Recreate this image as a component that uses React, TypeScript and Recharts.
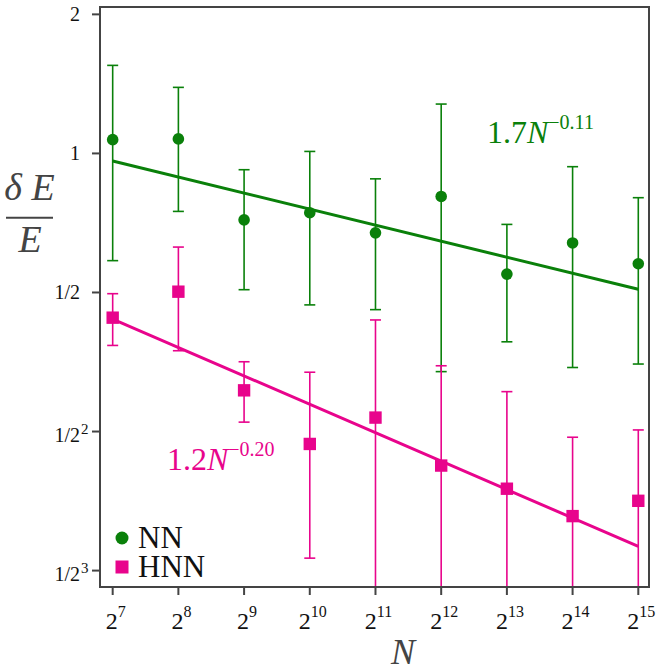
import {
    ComposedChart,
    Scatter,
    Line,
    XAxis,
    YAxis,
    ErrorBar,
    ReferenceArea,
    Legend,
} from "recharts";

// N = 2^k
const exponents = [7, 8, 9, 10, 11, 12, 13, 14, 15];
const nValues = [128, 256, 512, 1024, 2048, 4096, 8192, 16384, 32768];

// dE/E, NN
const nnMean = [1.071, 1.075, 0.718, 0.744, 0.673, 0.807, 0.548, 0.64, 0.577];
const nnUpper = [1.551, 1.39, 0.922, 1.01, 0.881, 1.279, 0.702, 0.936, 0.802];
const nnLower = [0.586, 0.749, 0.507, 0.47, 0.459, 0.337, 0.391, 0.344, 0.35];

// dE/E, HNN (lower 0 = bar runs off the bottom)
const hnnMean = [0.441, 0.502, 0.307, 0.235, 0.268, 0.211, 0.188, 0.164, 0.177];
const hnnUpper = [0.497, 0.627, 0.354, 0.336, 0.436, 0.347, 0.305, 0.243, 0.252];
const hnnLower = [0.384, 0.374, 0.262, 0.133, 0, 0, 0, 0, 0];

// fitted power laws, end points
const fitN = [128, 32768];
const nnFit = [0.963, 0.508];
const hnnFit = [0.438, 0.141];

const yTicks = [1, 0, -1, -2, -3];
const yTickText: Record<number, [string, string]> = {
    1: ["2", ""],
    0: ["1", ""],
    "-1": ["1/2", ""],
    "-2": ["1/2", "2"],
    "-3": ["1/2", "3"],
};

const X_MIN = 6.807;
const X_MAX = 15.163;
const Y_MIN = -3.118;
const Y_MAX = 1.053;

const GREEN = "#0a800a";
const PINK = "#e8048c";
const AXIS = "#444";
const FONT = "Liberation Serif, Times New Roman, serif";

// errA: capped bar (lower end kept at the point when the bar runs off the axis)
// errB: open lower part down to the axis, no cap
const toRows = (mean: number[], lo: number[], hi: number[]) =>
    nValues.map((n, i) => {
        const y = Math.log2(mean[i]);
        const up = Math.log2(hi[i]) - y;
        const open = !(lo[i] > 0);
        return {
            x: Math.log2(n),
            y,
            errA: open ? [0, up] : [y - Math.log2(lo[i]), up],
            errB: open ? [y - Y_MIN, 0] : null,
        };
    });

const fitRows = (vals: number[]) =>
    fitN.map((n, i) => ({ x: Math.log2(n), y: Math.log2(vals[i]) }));

const nnData = toRows(nnMean, nnLower, nnUpper);
const hnnData = toRows(hnnMean, hnnLower, hnnUpper);

const legendItems = [
    { name: "NN", color: GREEN, shape: "circle" },
    { name: "HNN", color: PINK, shape: "square" },
];

function XTick({ x, y, payload }: any) {
    return (
        <text x={x + 3} y={y + 32} textAnchor="middle" fontFamily={FONT} fontSize={24} fill="#111">
            2
            <tspan dy={-12} fontSize={16}>
                {payload.value}
            </tspan>
        </text>
    );
}

function YTick({ x, y, payload }: any) {
    const [base, sup] = yTickText[payload.value];
    return (
        <g fontFamily={FONT} fill="#111">
            <text x={x} y={sup ? y + 10 : y + 7} textAnchor="end" fontSize={20}>
                {base}
            </text>
            {sup && (
                <text x={x + 1} y={y + 2} fontSize={15}>
                    {sup}
                </text>
            )}
        </g>
    );
}

const dot = (color: string) => (p: any) => (
    <circle cx={p.cx} cy={p.cy} r={5.8} fill={color} />
);
const square = (color: string) => (p: any) => (
    <rect x={p.cx - 6.2} y={p.cy - 6.2} width={12.4} height={12.4} fill={color} />
);

function renderLegend() {
    return (
        <div style={{ fontFamily: FONT, fontSize: 31, color: "#111" }}>
            {legendItems.map((it) => (
                <div key={it.name} style={{ display: "flex", alignItems: "center", height: 29, lineHeight: "29px" }}>
                    <svg width={14} height={14} style={{ marginRight: 9 }}>
                        {it.shape === "circle" ? (
                            <circle cx={7} cy={7} r={6.5} fill={it.color} />
                        ) : (
                            <rect x={0.5} y={0.5} width={13} height={13} fill={it.color} />
                        )}
                    </svg>
                    <span>{it.name}</span>
                </div>
            ))}
        </div>
    );
}

function YLabel() {
    return (
        <g fontFamily={FONT} fontStyle="italic" fontSize={38} fill={AXIS}>
            <text x={29.5} y={200} textAnchor="middle">
                δ E
            </text>
            <line x1={6} x2={53} y1={217.7} y2={217.7} stroke={AXIS} strokeWidth={2} />
            <text x={30} y={251.7} textAnchor="middle">
                E
            </text>
        </g>
    );
}

function XLabel() {
    return (
        <text x={403} y={664} textAnchor="middle" fontFamily={FONT} fontStyle="italic" fontSize={36} fill={AXIS}>
            N
        </text>
    );
}

export default function App() {
    return (
        <div style={{ position: "absolute", left: 0, top: 0, background: "#fff" }}>
            <ComposedChart
                width={656}
                height={671}
                margin={{ top: 7, right: 7, left: 0, bottom: 0 }}
            >
                <XAxis
                    type="number"
                    dataKey="x"
                    domain={[X_MIN, X_MAX]}
                    ticks={exponents}
                    allowDataOverflow
                    height={84}
                    tickSize={8}
                    stroke={AXIS}
                    strokeWidth={2}
                    tick={<XTick />}
                    label={<XLabel />}
                />
                <YAxis
                    type="number"
                    dataKey="y"
                    domain={[Y_MIN, Y_MAX]}
                    ticks={yTicks}
                    allowDataOverflow
                    width={100}
                    tickSize={8}
                    tickMargin={12}
                    stroke={AXIS}
                    strokeWidth={2}
                    tick={<YTick />}
                    label={<YLabel />}
                />
                <ReferenceArea
                    x1={X_MIN}
                    x2={X_MAX}
                    y1={Y_MIN}
                    y2={Y_MAX}
                    fill="none"
                    stroke={AXIS}
                    strokeWidth={2}
                />
                <Scatter name="NN" data={nnData} shape={dot(GREEN)} isAnimationActive={false}>
                    <ErrorBar dataKey="errA" direction="y" width={5.5} stroke={GREEN} strokeWidth={1.6} isAnimationActive={false} />
                </Scatter>
                <Line
                    data={fitRows(nnFit)}
                    dataKey="y"
                    stroke={GREEN}
                    strokeWidth={3}
                    dot={false}
                    legendType="none"
                    isAnimationActive={false}
                />
                <Scatter name="HNN" data={hnnData} shape={square(PINK)} isAnimationActive={false}>
                    <ErrorBar dataKey="errA" direction="y" width={5.5} stroke={PINK} strokeWidth={1.6} isAnimationActive={false} />
                    <ErrorBar dataKey="errB" direction="y" width={0} stroke={PINK} strokeWidth={1.6} isAnimationActive={false} />
                </Scatter>
                <Line
                    data={fitRows(hnnFit)}
                    dataKey="y"
                    stroke={PINK}
                    strokeWidth={3}
                    dot={false}
                    legendType="none"
                    isAnimationActive={false}
                />
                <text x={487} y={143} fontFamily={FONT} fontSize={32} fill={GREEN}>
                    1.7<tspan fontStyle="italic">N</tspan>
                    <tspan dy={-14} fontSize={20}>−0.11</tspan>
                </text>
                <text x={167} y={470} fontFamily={FONT} fontSize={32} fill={PINK}>
                    1.2<tspan fontStyle="italic">N</tspan>
                    <tspan dy={-14} fontSize={20}>−0.20</tspan>
                </text>
                <Legend
                    layout="vertical"
                    verticalAlign="middle"
                    align="center"
                    content={renderLegend}
                    wrapperStyle={{ left: 115, top: 523, width: "auto" }}
                />
            </ComposedChart>
        </div>
    );
}
